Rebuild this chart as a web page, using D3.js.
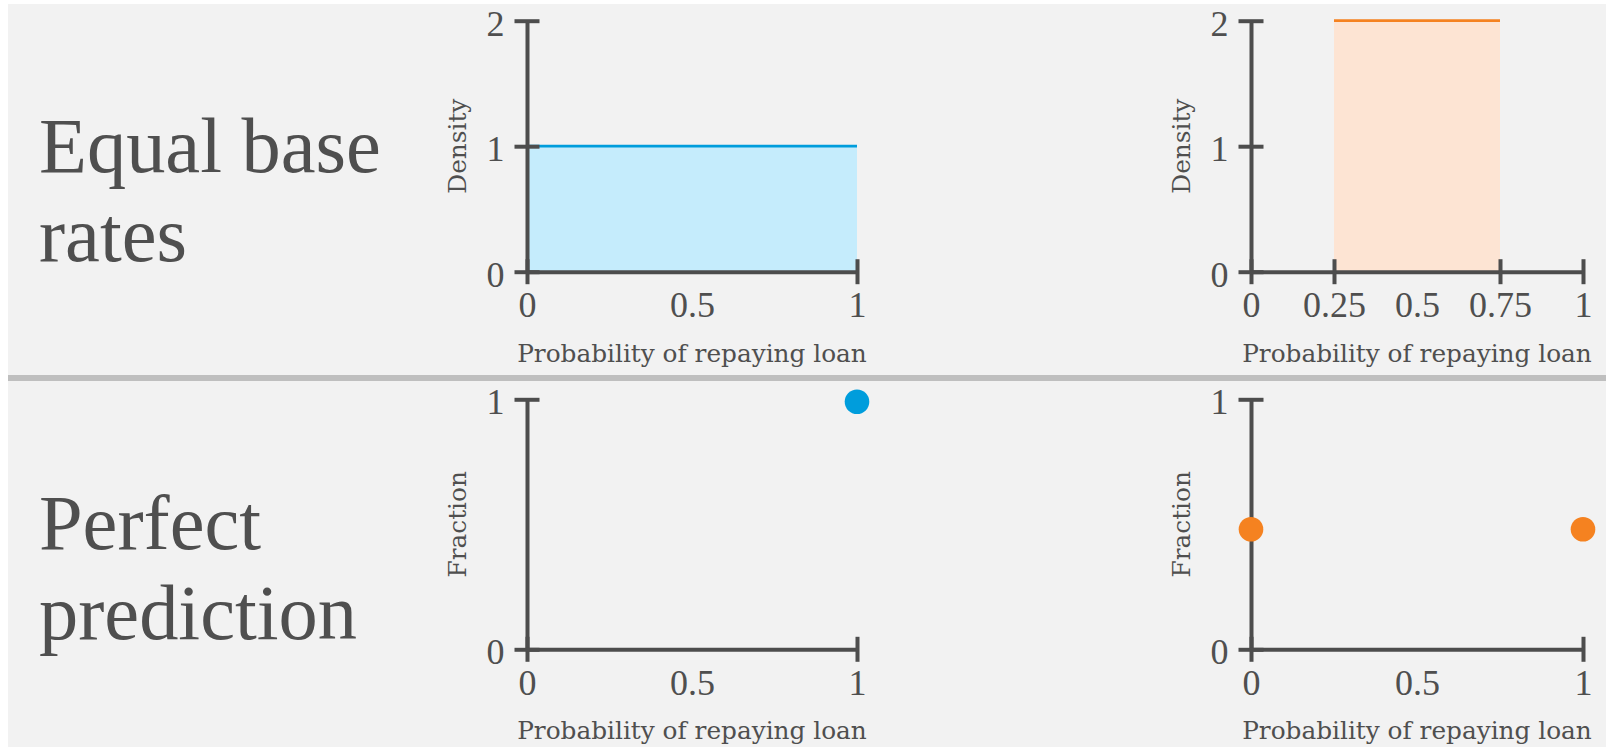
<!DOCTYPE html>
<html>
<head>
<meta charset="utf-8">
<script src="https://cdn.jsdelivr.net/npm/d3@7"></script>
<style>
  html, body { margin: 0; padding: 0; background: #ffffff; }
  svg { display: block; }
</style>
</head>
<body>
<svg id="chart" width="1606" height="747"></svg>
<script>
// ---------------- data ----------------
const rowLabels = [["Equal base", "rates"], ["Perfect", "prediction"]];
const xTitle = "Probability of repaying loan";
const yTitles = ["Density", "Fraction"];

const densityTicksY = [0, 1, 2];
const fractionTicksY = [0, 1];
const xLabelsBasic = [0, 0.5, 1];
const xMarksBasic = [0, 1];
const xLabelsQuarter = [0, 0.25, 0.5, 0.75, 1];
const xMarksQuarter = [0, 0.25, 0.75, 1];

// uniform densities: [start, end] of support and height
const blueDensityX = [0, 1];
const blueDensityY = [1, 1];
const orangeDensityX = [0.25, 0.75];
const orangeDensityY = [2, 2];

// fraction points
const blueFractionX = [1];
const blueFractionY = [0.99];
const orangeFractionX = [0, 1];
const orangeFractionY = [0.48, 0.48];

// ---------------- style ----------------
const C = {
  bg: "#f2f2f2", axis: "#4d4d4d", text: "#4f4f4f", divider: "#bfbfbf",
  blue: "#009ddc", blueFill: "#c5ecfc", orange: "#f58220", orangeFill: "#fde4d3"
};
const SERIF = "'DejaVu Serif', serif";
const HEADFONT = "'Liberation Serif', serif";
const NUMFONT = "'Liberation Serif', serif";

const svg = d3.select("#chart");
svg.append("rect").attr("x", 8).attr("y", 4).attr("width", 1606 - 8).attr("height", 747 - 4).attr("fill", C.bg);
svg.append("rect").attr("x", 8).attr("y", 375).attr("width", 1606 - 8).attr("height", 6).attr("fill", C.divider);

function fitSize(text, family, target) {
  const t = svg.append("text").attr("font-family", family).attr("font-size", 100).text(text);
  const w = t.node().getComputedTextLength();
  t.remove();
  return 100 * target / w;
}
const headSize = fitSize("Equal base", HEADFONT, 342);
const titleSize = fitSize(xTitle, SERIF, 350);
const tickSize = 36;

// row headings
const headBaselines = [[171.8, 260.6], [548.8, 638.7]];
rowLabels.forEach((lines, r) => {
  lines.forEach((s, i) => {
    svg.append("text").attr("x", 39).attr("y", headBaselines[r][i])
      .attr("font-family", HEADFONT).attr("font-size", headSize).attr("fill", C.text).text(s);
  });
});

// panels layout
const colX = [[527, 857], [1251, 1583]];
const rowY = [[271.7, 20.7], [649.3, 399.3]];

function makePanel(col, row, yDomain, yTicks, xLabels, xMarks, yTitle) {
  const x = d3.scaleLinear().domain([0, 1]).range(colX[col]);
  const y = d3.scaleLinear().domain(yDomain).range(rowY[row]);
  const g = svg.append("g");
  return { x, y, g, draw() {
    const ax = g.append("g").attr("transform", `translate(0,${y(0)})`)
      .call(d3.axisBottom(x).tickValues(xLabels).tickSize(12.5).tickSizeOuter(0).tickFormat(d3.format("")));
    const ay = g.append("g").attr("transform", `translate(${x(0)},0)`)
      .call(d3.axisLeft(y).tickValues(yTicks).tickSize(12.5).tickSizeOuter(0).tickFormat(d3.format("")));
    [ax, ay].forEach(a => {
      a.select(".domain").attr("stroke", C.axis).attr("stroke-width", 4);
      a.selectAll(".tick line").attr("stroke", C.axis).attr("stroke-width", 4);
      a.selectAll(".tick text").attr("font-family", NUMFONT).attr("font-size", tickSize).attr("fill", C.text);
    });
    ax.selectAll(".tick line").attr("y1", -12.5).attr("y2", 12.5)
      .attr("display", d => xMarks.includes(d) ? null : "none");
    ax.selectAll(".tick text").attr("y", 45.5).attr("dy", 0);
    ay.selectAll(".tick line").attr("x1", -12.5).attr("x2", 12.5);
    ay.selectAll(".tick text").attr("x", -22.5).attr("dy", "0.4em");
    // titles
    g.append("text").attr("x", (x.range()[0] + x.range()[1]) / 2).attr("y", y(0) + 90)
      .attr("text-anchor", "middle").attr("font-family", SERIF).attr("font-size", titleSize)
      .attr("fill", C.text).text(xTitle);
    const cy = (y.range()[0] + y.range()[1]) / 2;
    g.append("text").attr("transform", `translate(${x(0) - 61},${cy}) rotate(-90)`)
      .attr("text-anchor", "middle").attr("font-family", SERIF).attr("font-size", titleSize)
      .attr("fill", C.text).text(yTitle);
  }};
}

function drawDensity(p, xs, ys, color, fill) {
  const pts = xs.map((d, i) => ({ x: d, y: ys[i] }));
  const area = d3.area().x(d => p.x(d.x)).y0(p.y(0)).y1(d => p.y(d.y));
  const line = d3.line().x(d => p.x(d.x)).y(d => p.y(d.y));
  p.g.append("path").datum(pts).attr("d", area).attr("fill", fill);
  p.g.append("path").datum(pts).attr("d", line).attr("fill", "none").attr("stroke", color).attr("stroke-width", 2.7);
}
function drawDots(p, xs, ys, color) {
  p.g.selectAll(null).data(xs.map((d, i) => ({ x: d, y: ys[i] }))).join("circle")
    .attr("cx", d => p.x(d.x)).attr("cy", d => p.y(d.y)).attr("r", 12.3).attr("fill", color);
}

const p00 = makePanel(0, 0, [0, 2], densityTicksY, xLabelsBasic, xMarksBasic, yTitles[0]);
drawDensity(p00, blueDensityX, blueDensityY, C.blue, C.blueFill);
p00.draw();

const p01 = makePanel(1, 0, [0, 2], densityTicksY, xLabelsQuarter, xMarksQuarter, yTitles[0]);
drawDensity(p01, orangeDensityX, orangeDensityY, C.orange, C.orangeFill);
p01.draw();

const p10 = makePanel(0, 1, [0, 1], fractionTicksY, xLabelsBasic, xMarksBasic, yTitles[1]);
p10.draw();
drawDots(p10, blueFractionX, blueFractionY, C.blue);

const p11 = makePanel(1, 1, [0, 1], fractionTicksY, xLabelsBasic, xMarksBasic, yTitles[1]);
p11.draw();
drawDots(p11, orangeFractionX, orangeFractionY, C.orange);
</script>
</body>
</html>
